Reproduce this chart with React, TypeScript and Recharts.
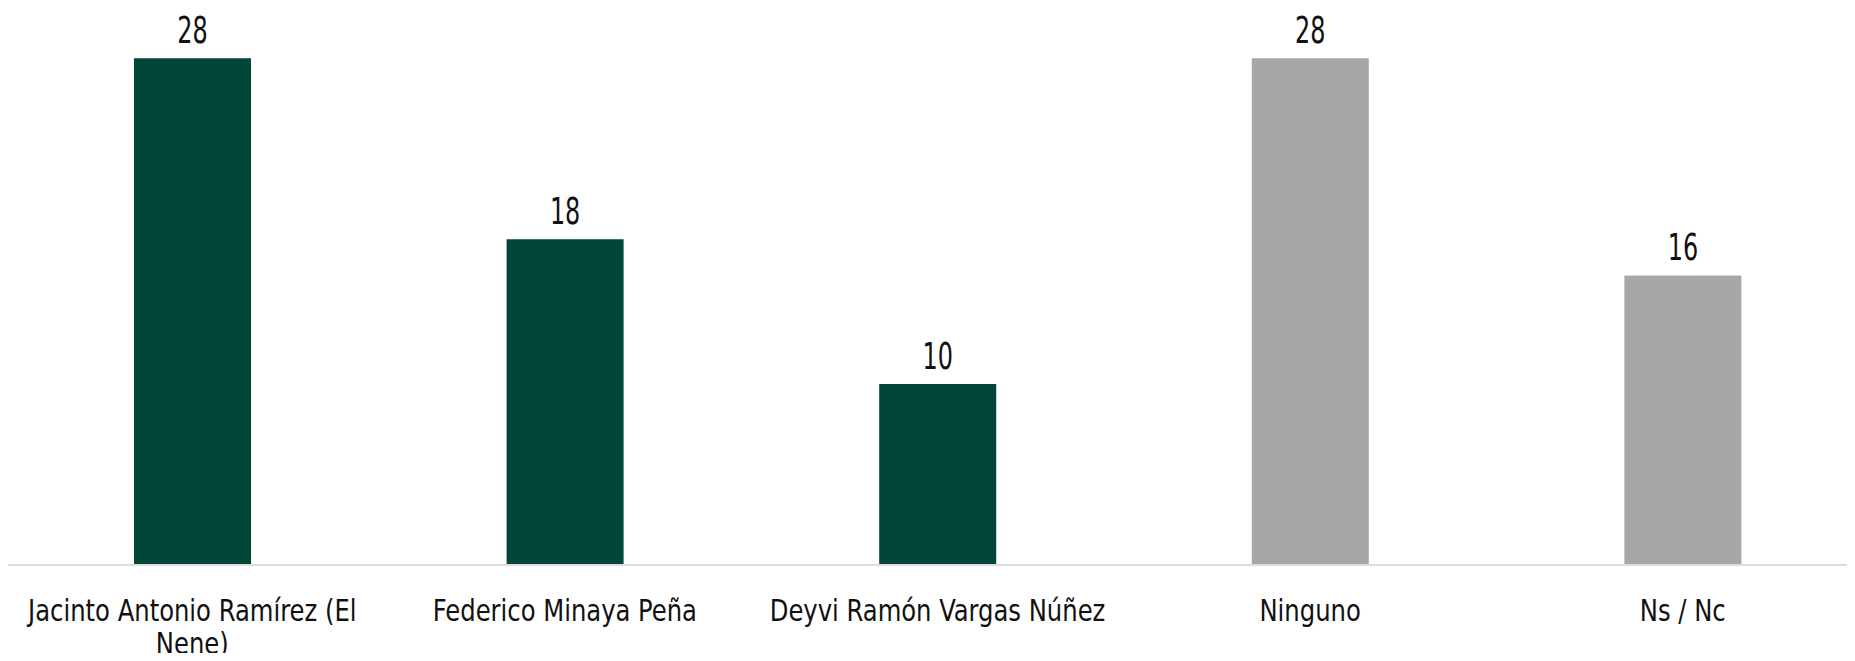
import React from "react"
import { Bar, BarChart, Cell, LabelList, XAxis, YAxis } from "recharts"

const categories = [
  "Jacinto Antonio Ramírez (El Nene)",
  "Federico Minaya Peña",
  "Deyvi Ramón Vargas Núñez",
  "Ninguno",
  "Ns / Nc",
]
const values = [28, 18, 10, 28, 16]
const barColors = ["#02463a", "#02463a", "#02463a", "#a7a7a9", "#a7a7a9"]

const data = categories.map((name, i) => ({ name, value: values[i] }))

const FONT = "'DejaVu Sans Condensed', 'DejaVu Sans', sans-serif"

// condensed look: draw at a taller size, squeeze horizontally
const TICK_SIZE = 30
const TICK_SQUEEZE = 0.9
const LABEL_SIZE = 38
const LABEL_SQUEEZE = 0.7
const MAX_CHARS = 27

const wrap = (s: string) => {
  const lines: string[] = []
  let cur = ""
  for (const w of s.split(" ")) {
    const next = cur ? cur + " " + w : w
    if (next.length > MAX_CHARS && cur) {
      lines.push(cur)
      cur = w
    } else cur = next
  }
  if (cur) lines.push(cur)
  return lines
}

const CategoryTick = (props: any) => {
  const { x, y, payload } = props
  const lines = wrap(String(payload.value))
  return (
    <g transform={`translate(${x},${y + 56}) scale(${TICK_SQUEEZE},1)`}>
      <text textAnchor="middle" fontSize={TICK_SIZE} fontFamily={FONT} fill="#111">
        {lines.map((l, i) => (
          <tspan key={i} x={0} dy={i === 0 ? 0 : 33}>
            {l}
          </tspan>
        ))}
      </text>
    </g>
  )
}

const ValueLabel = (props: any) => {
  const { x, y, width, value } = props
  return (
    <g transform={`translate(${x + width / 2},${y - 15}) scale(${LABEL_SQUEEZE},1)`}>
      <text x={0} y={0} textAnchor="middle" fontSize={LABEL_SIZE} fontFamily={FONT} fill="#111">
        {value}
      </text>
    </g>
  )
}

export default function App() {
  return (
    <div style={{ margin: -8, width: 1855, height: 661, overflow: "hidden", background: "#fff" }}>
      <BarChart
        width={1870}
        height={661}
        data={data}
        margin={{ top: 22, right: 1, left: 6, bottom: 0 }}
        barCategoryGap={0}
      >
        <XAxis
          dataKey="name"
          height={96}
          interval={0}
          tickLine={false}
          tickSize={0}
          tickMargin={0}
          axisLine={{ stroke: "#dcdcdc", strokeWidth: 2 }}
          tick={<CategoryTick />}
        />
        <YAxis hide domain={[0, 30]} />
        <Bar dataKey="value" barSize={117} isAnimationActive={false}>
          {data.map((d, i) => (
            <Cell key={d.name} fill={barColors[i]} />
          ))}
          <LabelList dataKey="value" content={<ValueLabel />} />
        </Bar>
      </BarChart>
    </div>
  )
}
